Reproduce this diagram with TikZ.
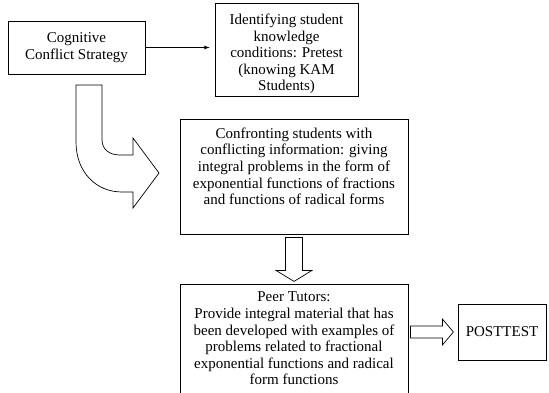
\documentclass[tikz,border=0pt]{standalone}
\usepackage{fontspec}
\setmainfont{Liberation Serif}
\usetikzlibrary{arrows,positioning}

\begin{document}
\begin{tikzpicture}[x=1pt,y=-1pt]
  \tikzset{BoxStyle/.style = {draw,
                              line width   = 0.8pt,
                              align        = center,
                              inner sep    = 3pt,
                              font         = \fontsize{15}{16.6}\selectfont},
           TextStyle/.style = {align = center,
                               inner sep = 0pt,
                               font = \fontsize{15}{16.6}\selectfont},
           BlockArrowStyle/.style = {draw, line width = 0.7pt, line join = miter, fill = white}}
  \useasboundingbox (0,0) rectangle (549,392);
  %%% BOXES %%%
  \node[BoxStyle, minimum width=137pt, minimum height=53pt] (cog) at (76.5,47.5) {Cognitive\\Conflict Strategy};
  \node[BoxStyle, minimum width=143pt, minimum height=93pt] (ident) at (286.5,50) {};
  \node[TextStyle] (identtext) at ([yshift=-4pt]ident.center) {Identifying student\\knowledge\\conditions: Pretest\\(knowing KAM\\Students)};
  \node[BoxStyle, minimum width=228pt, minimum height=115pt] (confront) at (294,176.5) {};
  \node[TextStyle, anchor=north] (confronttext) at ([yshift=-9pt]confront.north) {Confronting students with\\conflicting information: giving\\integral problems in the form of\\exponential functions of fractions\\and functions of radical forms};
  \node[BoxStyle, minimum width=228pt, minimum height=109pt] (peer) at (294,338.5) {Peer Tutors:\\Provide integral material that has\\been developed with examples of\\problems related to fractional\\exponential functions and radical\\form functions};
  \node[BoxStyle, minimum width=88pt, minimum height=56pt] (post) at (502,332) {POSTTEST};
  %%% ARROWS %%%
  \draw[->, >=latex, line width=0.8pt, shorten >=5pt] (cog.east) -- (cog.east -| ident.west);
  % bent arrow
  \draw[BlockArrowStyle] (76,85) -- (102,85) -- (102,140) .. controls (102,149) and (109,155) .. (120,155)
    -- (133,155) -- (133,138) -- (159,173) -- (133,208) -- (133,192) -- (122,192)
    .. controls (96,192) and (76,172) .. (76,142) -- cycle;
  % down arrow
  \draw[BlockArrowStyle] ([shift={(-8.5,3)}]confront.south) -- ++(17,0) -- ++(0,33) -- ++(9.5,0)
    -- ++(-18,11) -- ++(-18,-11) -- ++(9.5,0) -- cycle;
  % right arrow
  \coordinate (ra) at (peer.east |- post.west);
  \draw[BlockArrowStyle] ([shift={(2,-6)}]ra) -- ++(32,0) -- ++(0,-7) -- ++(11,13) -- ++(-11,13)
    -- ++(0,-7) -- ++(-32,0) -- cycle;
\end{tikzpicture}
\end{document}
